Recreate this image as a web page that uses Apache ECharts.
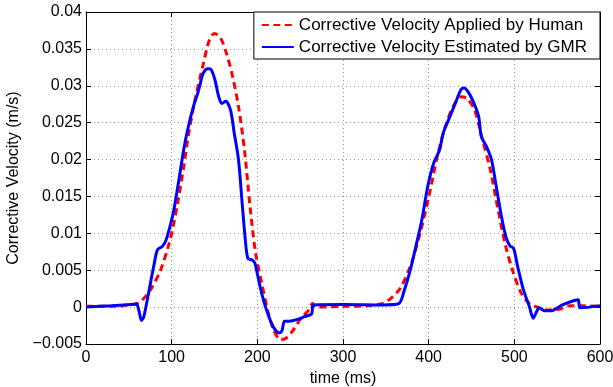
<!DOCTYPE html>
<html><head><meta charset="utf-8">
<script src="https://cdn.jsdelivr.net/npm/echarts@6/dist/echarts.min.js"></script>
<style>html,body{margin:0;padding:0;background:#fff}#c{width:613px;height:387px}</style>
</head><body><div id="c"></div>
<script>
const humanX = [0,30,60,66,75,87,96,100,107,114,120,128,137,144,150,157,164,171,178,185,191.5,198,205,212,219,227,232.5,242,251,260,264.5,269,300,330,346.5,356,367,378.5,390,401,410,419.5,428.6,437.8,444.6,453.7,462.8,472,481,490,499,508,517.5,529,538,552,565,574.6,600];
const humanY = [0.0001,0.0001,0.0005,0.001,0.0023,0.005,0.0082,0.01,0.0141,0.019,0.0236,0.0285,0.033,0.0362,0.0371,0.0365,0.0344,0.0313,0.0272,0.0213,0.0136,0.0073,0.0033,-0.0004,-0.0031,-0.0044,-0.0043,-0.0031,-0.0015,-0.0004,0.0005,0.0,0.0001,0.0002,0.0005,0.0012,0.0026,0.0055,0.01,0.0154,0.0204,0.0245,0.0272,0.0285,0.0283,0.0267,0.0227,0.0186,0.0132,0.0082,0.0046,0.0019,0.0005,-0.0001,-0.0004,-0.0003,0.0002,0.0002,0.0001];
const gmrX = [0,30,57,59,61.6,64.8,67.5,73,79,83.5,89,93.5,98,102.6,108.5,114,118.6,125.4,130,133,136.8,142.3,146,150.5,155,158.7,163,168.7,173,178,182,186,189,194,197,200.6,205,210.7,216.6,221,225.7,229,231.6,237,246,255,263.5,264.5,265.4,301,346.5,364.8,371.6,378.5,385,392,399,405.8,412.7,417,424,431,437.8,441.4,447,453.7,458.4,461.5,467.4,473.3,478.8,484.3,490,494.8,499,503.9,510.7,517.5,522,525.3,529,535.8,542.6,556,570,574.6,576.9,600];
const gmrY = [0.0,0.0002,0.0004,0.00045,-0.0004,-0.0018,-0.0013,0.0019,0.0055,0.0078,0.0082,0.0091,0.0109,0.0132,0.0173,0.0213,0.024,0.0272,0.0288,0.0301,0.0317,0.0323,0.0322,0.0308,0.0285,0.0276,0.0279,0.0267,0.0236,0.02,0.0145,0.0091,0.0066,0.0064,0.006,0.0042,0.0019,-0.0004,-0.0022,-0.0031,-0.0035,-0.0031,-0.0019,-0.0019,-0.0017,-0.0013,-0.0009,0.0002,0.0003,0.00036,0.0003,0.00045,0.0023,0.005,0.0082,0.0118,0.0164,0.0195,0.0213,0.0236,0.0256,0.0276,0.0295,0.0297,0.029,0.0274,0.0258,0.0231,0.0218,0.02,0.0164,0.0127,0.0096,0.0083,0.008,0.0055,0.0023,0.0001,-0.0015,-0.0008,-0.0001,-0.0005,-0.0005,0.0003,0.0009,0.001,-0.0001,0.0002];
const seriesNames = ['Corrective Velocity Applied by Human','Corrective Velocity Estimated by GMR'];
const xTitle = 'time (ms)';
const yTitle = 'Corrective Velocity (m/s)';

const FONT = 'Liberation Sans, Arial, Helvetica, sans-serif';
const zip = (a,b)=>a.map((v,i)=>[v,b[i]]);
const fmtY = v => { const r = Math.round(v*1000)/1000; if (r===0) return '0'; return String(r).replace('-', '\u2212'); };

const chart = echarts.init(document.getElementById('c'), null, {renderer:'canvas'});
const gridLine = {show:true, lineStyle:{color:'#999', type:[1,3], width:1}};
chart.setOption({
  animation:false,
  backgroundColor:'#fff',
  grid:{left:86, right:13, top:12, bottom:43, containLabel:false, outerBoundsMode:'none'},
  legend:{
    right:13, top:12, orient:'vertical', itemGap:4, itemWidth:32, itemHeight:14,
    padding:[4,13,3,7],
    backgroundColor:'#fff', borderColor:'#000', borderWidth:1, borderRadius:0,
    itemStyle:{opacity:0},
    textStyle:{fontFamily:FONT, fontSize:17, color:'#000', lineHeight:18},
    data:seriesNames
  },
  xAxis:[{
    type:'value', min:0, max:600, interval:100,
    name:xTitle, nameLocation:'middle', nameGap:26,
    nameTextStyle:{fontFamily:FONT, fontSize:16, color:'#000'},
    axisLine:{show:true, onZero:false, lineStyle:{color:'#000', width:1}},
    axisTick:{show:true, inside:true, length:5, lineStyle:{color:'#000'}},
    axisLabel:{fontFamily:FONT, fontSize:16, color:'#000', margin:6},
    splitLine:gridLine
  },{
    type:'value', min:0, max:600, interval:100, position:'top',
    axisLine:{show:true, onZero:false, lineStyle:{color:'#000', width:1}},
    axisTick:{show:true, inside:true, length:5, lineStyle:{color:'#000'}},
    axisLabel:{show:false}, splitLine:{show:false}
  }],
  yAxis:[{
    type:'value', min:-0.005, max:0.04, interval:0.005,
    name:yTitle, nameLocation:'middle', nameGap:59, nameRotate:90,
    nameTextStyle:{fontFamily:FONT, fontSize:16, color:'#000'},
    axisLine:{show:true, onZero:false, lineStyle:{color:'#000', width:1}},
    axisTick:{show:true, inside:true, length:5, lineStyle:{color:'#000'}},
    axisLabel:{fontFamily:FONT, fontSize:16, color:'#000', margin:4, formatter:fmtY},
    splitLine:gridLine
  },{
    type:'value', min:-0.005, max:0.04, interval:0.005, position:'right',
    axisLine:{show:true, onZero:false, lineStyle:{color:'#000', width:1}},
    axisTick:{show:true, inside:true, length:5, lineStyle:{color:'#000'}},
    axisLabel:{show:false}, splitLine:{show:false}
  }],
  series:[{
    name:seriesNames[0], type:'line', data:zip(humanX,humanY), showSymbol:false, symbol:'none',
    smooth:0.3, lineStyle:{color:'#ff0000', width:3, type:[7,4.5]}, itemStyle:{color:'#ff0000'}
  },{
    name:seriesNames[1], type:'line', data:zip(gmrX,gmrY), showSymbol:false, symbol:'none',
    smooth:0.3, lineStyle:{color:'#0000ff', width:3, type:'solid'}, itemStyle:{color:'#0000ff'}
  }]
});
</script></body></html>
